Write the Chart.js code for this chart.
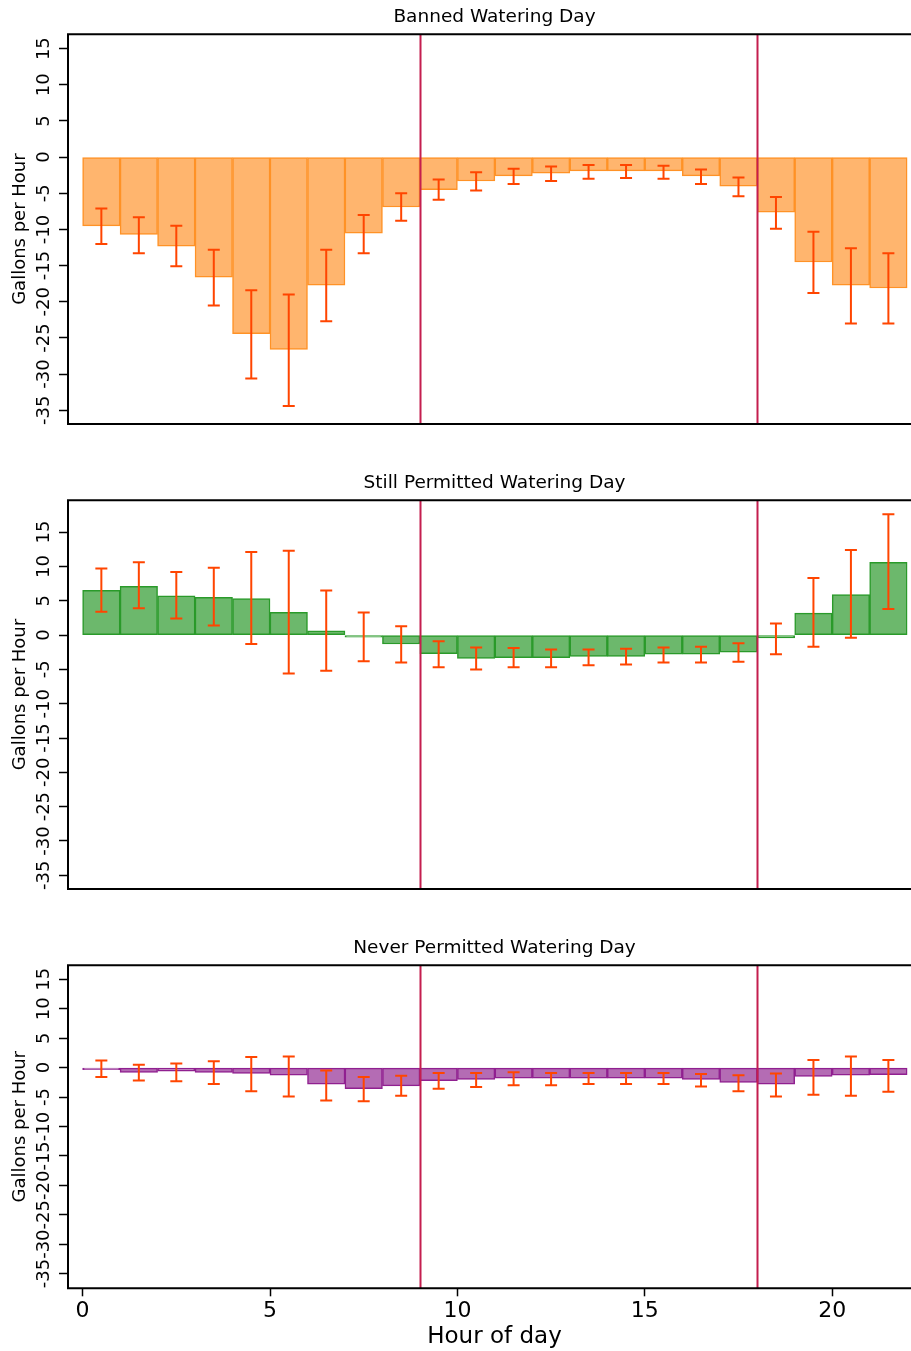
<!DOCTYPE html>
<html>
<head>
<meta charset="utf-8">
<script src="https://cdn.jsdelivr.net/npm/chart.js@4"></script>
<style>
    body { margin: 0; width: 911px; height: 1351px; overflow: hidden; background: #fff; }
    .panel { position: absolute; left: 0; }
</style>
</head>
<body>
<div class="panel" style="top:0px"><canvas id="banned" width="930" height="440"></canvas></div>
<div class="panel" style="top:466px"><canvas id="still" width="930" height="440"></canvas></div>
<div class="panel" style="top:931px"><canvas id="never" width="930" height="420"></canvas></div>
<script>
const hours = [0, 1, 2, 3, 4, 5, 6, 7, 8, 9, 10, 11, 12, 13, 14, 15, 16, 17, 18, 19, 20, 21];
const cutoffHours = [9, 18];

const bannedMean = [-9.5, -10.7, -12.3, -16.6, -24.4, -26.6, -17.7, -10.5, -6.9, -4.5, -3.3, -2.6, -2.2, -1.9, -1.9, -1.9, -2.6, -4.0, -7.6, -14.5, -17.7, -18.1];
const bannedLow = [-12.0, -13.3, -15.1, -20.5, -30.6, -34.4, -22.7, -13.3, -8.8, -5.9, -4.6, -3.7, -3.3, -3.0, -2.9, -3.0, -3.7, -5.4, -9.9, -18.8, -23.0, -23.0];
const bannedHigh = [-7.1, -8.3, -9.5, -12.8, -18.4, -19.0, -12.8, -8.0, -5.0, -3.1, -2.1, -1.6, -1.3, -1.1, -1.1, -1.2, -1.7, -2.8, -5.5, -10.3, -12.6, -13.3];

const stillMean = [6.5, 7.1, 5.7, 5.5, 5.3, 3.3, 0.6, -0.2, -1.3, -2.7, -3.4, -3.3, -3.3, -3.1, -3.1, -2.8, -2.8, -2.5, -0.4, 3.2, 5.9, 10.6];
const stillLow = [3.4, 3.9, 2.4, 1.4, -1.3, -5.6, -5.2, -3.8, -4.0, -4.7, -5.0, -4.7, -4.7, -4.4, -4.3, -4.0, -4.0, -3.9, -2.8, -1.7, -0.4, 3.8];
const stillHigh = [9.7, 10.6, 9.2, 9.8, 12.1, 12.3, 6.5, 3.3, 1.3, -0.9, -1.8, -1.9, -2.1, -2.1, -2.0, -1.8, -1.7, -1.2, 1.7, 8.3, 12.4, 17.6];

const neverMean = [-0.15, -0.8, -0.6, -0.8, -1.0, -1.3, -2.8, -3.6, -3.1, -2.2, -2.0, -1.8, -1.8, -1.8, -1.8, -1.8, -2.0, -2.5, -2.8, -1.5, -1.3, -1.2];
const neverLow = [-1.6, -2.2, -2.3, -2.8, -4.0, -4.9, -5.6, -5.7, -4.8, -3.6, -3.3, -3.0, -3.0, -2.8, -2.8, -2.8, -3.2, -4.0, -4.9, -4.6, -4.8, -4.1];
const neverHigh = [1.2, 0.5, 0.7, 1.1, 1.8, 1.9, -0.5, -1.6, -1.4, -0.9, -0.9, -0.8, -0.9, -0.9, -0.9, -0.9, -1.1, -1.3, -1.0, 1.3, 1.9, 1.3];

const FONT = "'DejaVu Sans', sans-serif";
Chart.defaults.font.family = FONT;
Chart.defaults.color = "#000";

// cutoff lines, error bars, frame and rotated y labels
const panelExtras = {
    id: "panelExtras",
    afterDatasetsDraw(chart) {
        const { ctx, chartArea, scales } = chart;
        const x = scales.x, y = scales.y;
        const ds = chart.data.datasets[0];

        ctx.save();
        ctx.strokeStyle = "#c41e4f";
        ctx.lineWidth = 2;
        cutoffHours.forEach(h => {
            const px = Math.round(x.getPixelForValue(h)) + 0.5;
            ctx.beginPath();
            ctx.moveTo(px, chartArea.top);
            ctx.lineTo(px, chartArea.bottom);
            ctx.stroke();
        });

        ctx.strokeStyle = "#ff4500";
        ctx.lineWidth = 2;
        ds.errLow.forEach((lo, i) => {
            const cx = x.getPixelForValue(hours[i] + 0.5);
            const y1 = y.getPixelForValue(lo);
            const y2 = y.getPixelForValue(ds.errHigh[i]);
            ctx.beginPath();
            ctx.moveTo(cx, y1); ctx.lineTo(cx, y2);
            ctx.moveTo(cx - 6, y1); ctx.lineTo(cx + 6, y1);
            ctx.moveTo(cx - 6, y2); ctx.lineTo(cx + 6, y2);
            ctx.stroke();
        });
        ctx.restore();
    },
    afterDraw(chart) {
        const { ctx, chartArea, scales } = chart;
        const y = scales.y;

        ctx.save();
        ctx.strokeStyle = "#000";
        ctx.lineWidth = 2;
        ctx.beginPath();
        ctx.moveTo(chartArea.right, chartArea.top);
        ctx.lineTo(chartArea.left, chartArea.top);
        ctx.lineTo(chartArea.left, chartArea.bottom);
        ctx.lineTo(chartArea.right, chartArea.bottom);
        ctx.stroke();

        ctx.font = "18px " + FONT;
        ctx.fillStyle = "#000";
        ctx.textAlign = "center";
        ctx.textBaseline = "alphabetic";
        y.ticks.forEach(t => {
            ctx.save();
            ctx.translate(chartArea.left - 19, y.getPixelForValue(t.value));
            ctx.rotate(-Math.PI / 2);
            ctx.fillText(String(t.value), 0, 0);
            ctx.restore();
        });
        ctx.restore();
    }
};

function makePanel(id, title, mean, low, high, fill, edge, yMin, yMax, showX) {
    const xScale = {
        type: "linear",
        min: -0.39,
        max: 22.37,
        offset: false,
        display: showX,
        border: { display: false },
        grid: { offset: false, drawOnChartArea: false, tickLength: 8, tickWidth: 1.5, tickColor: "#000" },
        ticks: { stepSize: 5, includeBounds: false, padding: 2, maxRotation: 0, font: { size: 22 } },
        title: { display: true, text: "Hour of day", font: { size: 23 }, padding: { top: 0, bottom: 0 } }
    };
    if (showX) {
        xScale.afterFit = s => { s.height = 62.7; };
    }

    return new Chart(document.getElementById(id), {
        type: "bar",
        data: {
            datasets: [{
                data: hours.map((h, i) => ({ x: h + 0.5, y: mean[i] })),
                errLow: low,
                errHigh: high,
                backgroundColor: fill,
                borderColor: edge,
                borderWidth: 1.5,
                borderSkipped: false,
                minBarLength: 2,
                barPercentage: 1,
                categoryPercentage: 1
            }]
        },
        options: {
            responsive: false,
            animation: false,
            events: [],
            layout: { padding: { top: 0, left: 0, right: 9, bottom: showX ? 0 : (id === "still" ? 17 : 16) } },
            plugins: {
                legend: { display: false },
                tooltip: { enabled: false },
                title: {
                    display: true,
                    text: title,
                    fullSize: false,
                    font: { size: 18.5, weight: "normal" },
                    padding: { top: 6, bottom: 6 }
                }
            },
            scales: {
                x: xScale,
                y: {
                    min: yMin,
                    max: yMax,
                    border: { display: false },
                    grid: { drawOnChartArea: false, tickLength: 9, tickWidth: 1.5, tickColor: "#000" },
                    ticks: { display: false, stepSize: 5, includeBounds: false },
                    title: { display: true, text: "Gallons per Hour", font: { size: 18 }, padding: { top: 10, bottom: 0 } },
                    afterFit: s => { s.width = 68; }
                }
            }
        },
        plugins: [panelExtras]
    });
}

makePanel("banned", "Banned Watering Day", bannedMean, bannedLow, bannedHigh,
    "#ffb56e", "#ff9226", -36.9, 17.0, false);
makePanel("still", "Still Permitted Watering Day", stillMean, stillLow, stillHigh,
    "#6cb86c", "#2a9a2a", -37.0, 19.65, false);
makePanel("never", "Never Permitted Watering Day", neverMean, neverLow, neverHigh,
    "#b46cb4", "#902090", -37.5, 17.4, true);
</script>
</body>
</html>
